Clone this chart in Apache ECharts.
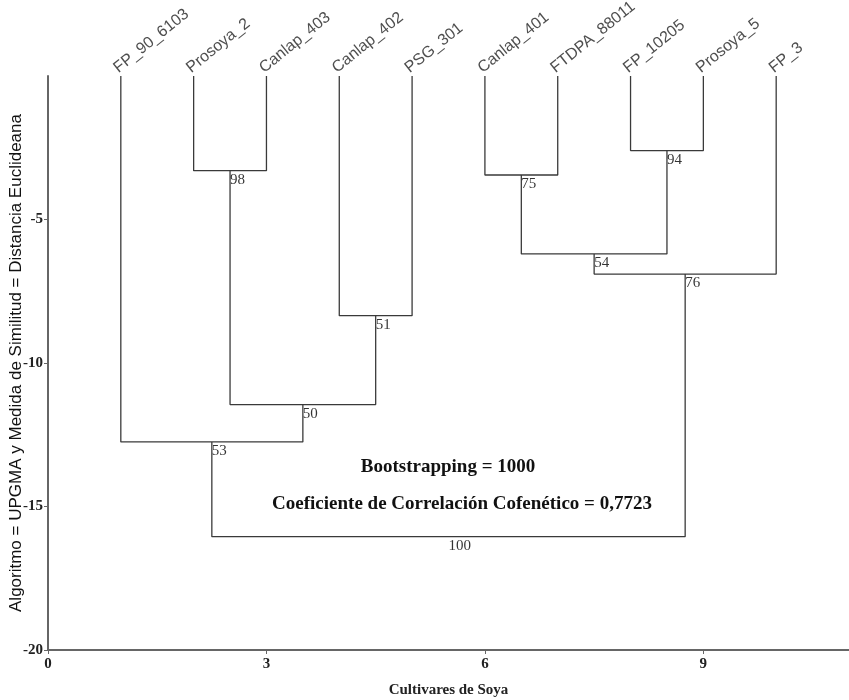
<!DOCTYPE html>
<html>
<head>
<meta charset="utf-8">
<script src="https://cdn.jsdelivr.net/npm/echarts@6/dist/echarts.min.js"></script>
<style>
  html, body { margin: 0; background: #fff; }
  #chart { width: 849px; height: 700px; }
</style>
</head>
<body>
<div id="chart"></div>
<script>
// hojas del dendrograma (orden de dibujo, x = 1..10)
const leaves = ['FP_90_6103', 'Prosoya_2', 'Canlap_403', 'Canlap_402', 'PSG_301',
  'Canlap_401', 'FTDPA_88011', 'FP_10205', 'Prosoya_5', 'FP_3'];

// uniones: nodo izq, nodo der, distancia, bootstrap (nodos 10.. son las uniones)
const joinLeft = [1, 7, 5, 3, 12, 14, 10, 0, 17];
const joinRight = [2, 8, 6, 4, 11, 9, 13, 16, 15];
const joinHeight = [-3.3, -2.6, -3.45, -8.35, -6.2, -6.9, -11.45, -12.75, -16.05];
const bootstrap = [98, 94, 75, 51, 54, 76, 50, 53, 100];

const xTicks = [0, 3, 6, 9];
const yTicks = [-20, -15, -10, -5];

const serif = 'Liberation Serif';
const sans = 'Liberation Sans';

const nodeX = leaves.map((_, i) => i + 1);
const nodeY = leaves.map(() => 0);
joinLeft.forEach((l, i) => {
  const r = joinRight[i];
  nodeX.push((nodeX[l] + nodeX[r]) / 2);
  nodeY.push(joinHeight[i]);
});

const branchSeries = joinLeft.map((l, i) => {
  const r = joinRight[i];
  const h = joinHeight[i];
  return {
    type: 'line',
    silent: true,
    symbol: 'none',
    lineStyle: { color: '#3a3a3a', width: 1.3 },
    data: [[nodeX[l], nodeY[l]], [nodeX[l], h], [nodeX[r], h], [nodeX[r], nodeY[r]]]
  };
});

const chart = echarts.init(document.getElementById('chart'));

const option = {
  backgroundColor: '#fff',
  animation: false,
  grid: { left: 48, right: 0, top: 76, bottom: 50, containLabel: false, outerBoundsMode: 'none' },
  xAxis: {
    type: 'value',
    min: 0,
    max: 11,
    interval: 3,
    name: 'Cultivares de Soya',
    nameLocation: 'middle',
    nameGap: 33,
    nameMoveOverlap: false,
    nameTextStyle: { fontFamily: serif, fontWeight: 'bold', fontSize: 15, color: '#222' },
    splitLine: { show: false },
    axisLine: { onZero: false, lineStyle: { color: '#666', width: 2 } },
    axisTick: { length: 4, customValues: xTicks, lineStyle: { color: '#666' } },
    axisLabel: {
      margin: 7,
      fontFamily: serif,
      fontWeight: 'bold',
      fontSize: 15,
      color: '#222',
      customValues: xTicks
    }
  },
  yAxis: {
    type: 'value',
    min: -20,
    max: 0,
    interval: 5,
    name: 'Algoritmo = UPGMA y Medida de Similitud = Distancia Euclideana',
    nameLocation: 'middle',
    nameGap: 23,
    nameMoveOverlap: false,
    nameTextStyle: { fontFamily: sans, fontSize: 17, color: '#111' },
    splitLine: { show: false },
    axisLine: { onZero: false, lineStyle: { color: '#666', width: 2 } },
    axisTick: { length: 4, customValues: yTicks, lineStyle: { color: '#666' } },
    axisLabel: {
      margin: 5,
      fontFamily: serif,
      fontWeight: 'bold',
      fontSize: 15,
      color: '#222',
      customValues: yTicks
    }
  },
  graphic: [
    {
      type: 'text',
      x: 448, y: 467,
      style: { text: 'Bootstrapping = 1000', font: 'bold 19px "Liberation Serif"', fill: '#111', align: 'center', verticalAlign: 'middle' }
    },
    {
      type: 'text',
      x: 462, y: 504,
      style: { text: 'Coeficiente de Correlación Cofenético = 0,7723', font: 'bold 19px "Liberation Serif"', fill: '#111', align: 'center', verticalAlign: 'middle' }
    }
  ],
  series: [
    ...branchSeries,
    {
      // nombres de las hojas
      type: 'scatter',
      silent: true,
      symbolSize: 0,
      data: leaves.map((name, i) => [nodeX[i], 0, name]),
      label: {
        show: true,
        position: 'top',
        distance: 0,
        rotate: 39,
        align: 'left',
        verticalAlign: 'bottom',
        fontFamily: sans,
        fontSize: 16,
        color: '#222',
        formatter: p => p.value[2]
      }
    },
    {
      // valores de bootstrap
      type: 'scatter',
      silent: true,
      symbolSize: 0,
      data: bootstrap.map((b, i) => [nodeX[leaves.length + i], joinHeight[i], b]),
      label: {
        show: true,
        position: 'bottom',
        distance: 2,
        align: 'left',
        verticalAlign: 'top',
        fontFamily: serif,
        fontSize: 15,
        color: '#000',
        formatter: p => String(p.value[2])
      }
    }
  ]
};

chart.setOption(option);
</script>
</body>
</html>
